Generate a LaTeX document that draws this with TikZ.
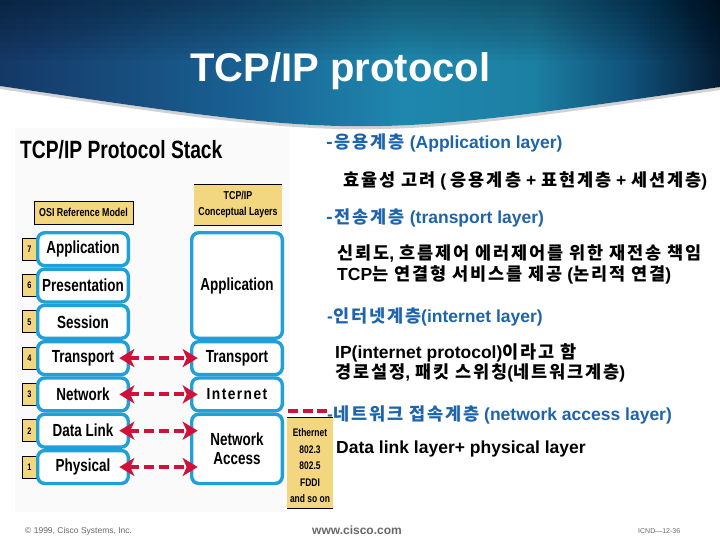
\documentclass[tikz,border=0pt]{standalone}
\usepackage{fontspec}
\setmainfont{Liberation Sans}
\newfontfamily\krf[LetterSpace=11]{Noto Sans CJK KR}
\newfontfamily\cond[FakeStretch=0.77]{Liberation Sans}
\newfontfamily\condsp[FakeStretch=0.86,LetterSpace=9]{Liberation Sans}
\usetikzlibrary{arrows.meta}
\newcommand{\K}[1]{{\krf #1}}
\definecolor{cyanb}{RGB}{32,160,214}
\definecolor{ylw}{RGB}{242,214,128}
\definecolor{redd}{RGB}{208,18,58}
\definecolor{bluet}{RGB}{30,100,170}
\definecolor{foot}{RGB}{105,105,105}
\definecolor{panel}{RGB}{250,250,250}
\pgfdeclarehorizontalshading{hdr}{100bp}{rgb(0bp)=(0.08,0.22,0.40); rgb(25bp)=(0.08,0.22,0.40); rgb(42bp)=(0.10,0.38,0.58); rgb(53bp)=(0.12,0.53,0.68); rgb(62bp)=(0.11,0.50,0.64); rgb(69bp)=(0.06,0.31,0.47); rgb(75bp)=(0.02,0.11,0.20); rgb(100bp)=(0.02,0.11,0.20)}
\tikzset{
  layer/.style={draw=cyanb, line width=3.4pt, rounded corners=7pt, fill=white,
    minimum width=90.6pt, minimum height=32.9pt, inner sep=0pt, outer sep=0pt,
    align=center, font=\cond\bfseries\fontsize{17.5}{20}\selectfont},
  tab/.style={draw=black, line width=0.7pt, fill=ylw, minimum width=15pt,
    minimum height=22pt, inner sep=0pt, outer sep=0pt,
    font=\cond\bfseries\fontsize{9.5}{10}\selectfont},
  hdrbox/.style={fill=ylw, inner sep=0pt, outer sep=0pt, align=center,
    font=\cond\bfseries\fontsize{11.5}{16.5}\selectfont},
  redarrow/.style={draw=redd, line width=4pt, dash pattern=on 10pt off 5pt,
    {Stealth[length=15pt,width=18pt,inset=4pt]}-{Stealth[length=15pt,width=18pt,inset=4pt]}},
  reddash/.style={draw=redd, line width=4pt, dash pattern=on 10pt off 4.5pt},
  bluetxt/.style={anchor=base west, inner sep=0pt, text=bluet,
    font=\bfseries\fontsize{17.5}{20}\selectfont},
  blacktxt/.style={anchor=base west, inner sep=0pt, text=black,
    font=\bfseries\fontsize{17.5}{20}\selectfont},
  foottxt/.style={anchor=base west, inner sep=0pt, text=foot}
}
\begin{document}
\begin{tikzpicture}[x=1pt,y=-1pt]
\useasboundingbox (0,0) rectangle (720,540);
\fill[white] (0,0) rectangle (720,540);
\fill[panel] (15,128) rectangle (290,512);
% header band
\draw[gray!35, line width=3pt] (0,87.5) .. controls (360,141) .. (720,88.5);
\shade[shading=hdr] (0,0) -- (720,0) -- (720,87) .. controls (360,139.5) .. (0,86) -- cycle;
\foreach \i in {0,...,9} \fill[black, fill opacity=0.035] (0,0) rectangle (720,{6*(10-\i)});
\node[anchor=base, inner sep=0pt, text=white, font=\bfseries\fontsize{40}{44}\selectfont] (title) at (340.5,82) {TCP/IP protocol};

% left diagram
\node[anchor=base west, inner sep=0pt, font=\cond\bfseries\fontsize{25}{28}\selectfont] (stack) at (20,159) {TCP/IP Protocol Stack};
\node[hdrbox, draw=black, line width=0.7pt, minimum width=99pt, minimum height=23pt] (osi) at (83.5,212.5) {OSI Reference Model};
\node[hdrbox, minimum width=88pt, minimum height=41pt] (tcph) at (238,204.5) {TCP/IP\\Conceptual Layers};
\draw[line width=0.8pt] (tcph.north west) -- (tcph.north east);
\draw[line width=0.8pt] (tcph.south west) -- (tcph.south east);

\foreach \n/\y in {7/249.2,6/285.5,5/321.8,4/358.1,3/394.4,2/430.7,1/467.0}
  \node[tab] (t\n) at (29.5,\y) {\n};

\node[layer] (l7) at (83,249.2) {Application};
\node[layer] (l6) at (83,285.5) {Presentation};
\node[layer] (l5) at (83,321.8) {Session};
\node[layer] (l4) at (83,358.1) {Transport};
\node[layer] (l3) at (83,394.4) {Network};
\node[layer] (l2) at (83,430.7) {Data Link};
\node[layer] (l1) at (83,467.0) {Physical};

\node[layer, minimum height=105.5pt] (rapp) at (237,285.5) {Application};
\node[layer] (rtr) at (237,358.1) {Transport};
\node[layer, font=\condsp\bfseries\fontsize{16}{20}\selectfont] (rint) at (237,394.4) {Internet};
\node[layer, minimum height=69.2pt] (rna) at (237,448.85) {Network\\[-1pt]Access};

\draw[redarrow] ([xshift=-9pt]l4.east) -- ([xshift=6pt]rtr.west);
\draw[redarrow] ([xshift=-9pt]l3.east) -- ([xshift=6pt]rint.west);
\draw[redarrow] ([xshift=-9pt]l2.east) -- ([xshift=6pt]l2.east -| rna.west);
\draw[redarrow] ([xshift=-9pt]l1.east) -- ([xshift=6pt]l1.east -| rna.west);

\node[fill=ylw, inner sep=0pt, outer sep=0pt, minimum width=46pt, minimum height=91pt] (eth) at (310,462.5) {};
\draw[line width=0.8pt] (eth.north west) -- (eth.north east);
\draw[line width=0.8pt] (eth.south west) -- (eth.south east);
\node[align=center, inner sep=0pt, font=\cond\bfseries\fontsize{11}{16.5}\selectfont] (etht) at ([yshift=-3.5pt]eth.center) {Ethernet\\802.3\\802.5\\FDDI\\and so on};

% right text
\node[bluetxt] (b1) at (326,148.5) {\K{-응용계층} (Application layer)};
\node[blacktxt] (k1) at (343,186.5) {\K{효율성 고려} ( \K{응용계층} + \K{표현계층} + \K{세션계층})};
\node[bluetxt] (b2) at (326,223.5) {\K{-전송계층} (transport layer)};
\node[blacktxt] (k2) at (337,259.5) {\K{신뢰도}, \K{흐름제어 에러제어를 위한 재전송 책임}};
\node[blacktxt] (k3) at (337,280) {TCP\K{는 연결형 서비스를 제공} (\K{논리적 연결})};
\node[bluetxt] (b3) at (327,322.5) {-\K{인터넷계층}(internet layer)};
\node[blacktxt] (k4) at (335,358.5) {IP(internet protocol)\K{이라고 함}};
\node[blacktxt] (k5) at (335,378.5) {\K{경로설정}, \K{패킷 스위칭}(\K{네트워크계층})};
\node[bluetxt] (b4) at (327,420.5) {-\K{네트워크 접속계층} (network access layer)};
\node[blacktxt] (k6) at (336,453.5) {Data link layer+ physical layer};

\coordinate (nd) at (288,411);
\draw[reddash] (nd) -- (nd -| b4.west);

% footer
\node[foottxt, font=\fontsize{8.5}{10}\selectfont] (f1) at (25,533) {© 1999, Cisco Systems, Inc.};
\node[foottxt, font=\bfseries\fontsize{12}{14}\selectfont] (f2) at (312,534) {www.cisco.com};
\node[foottxt, font=\fontsize{7}{8}\selectfont] (f3) at (638,533) {ICND—12-36};
\end{tikzpicture}
\end{document}
